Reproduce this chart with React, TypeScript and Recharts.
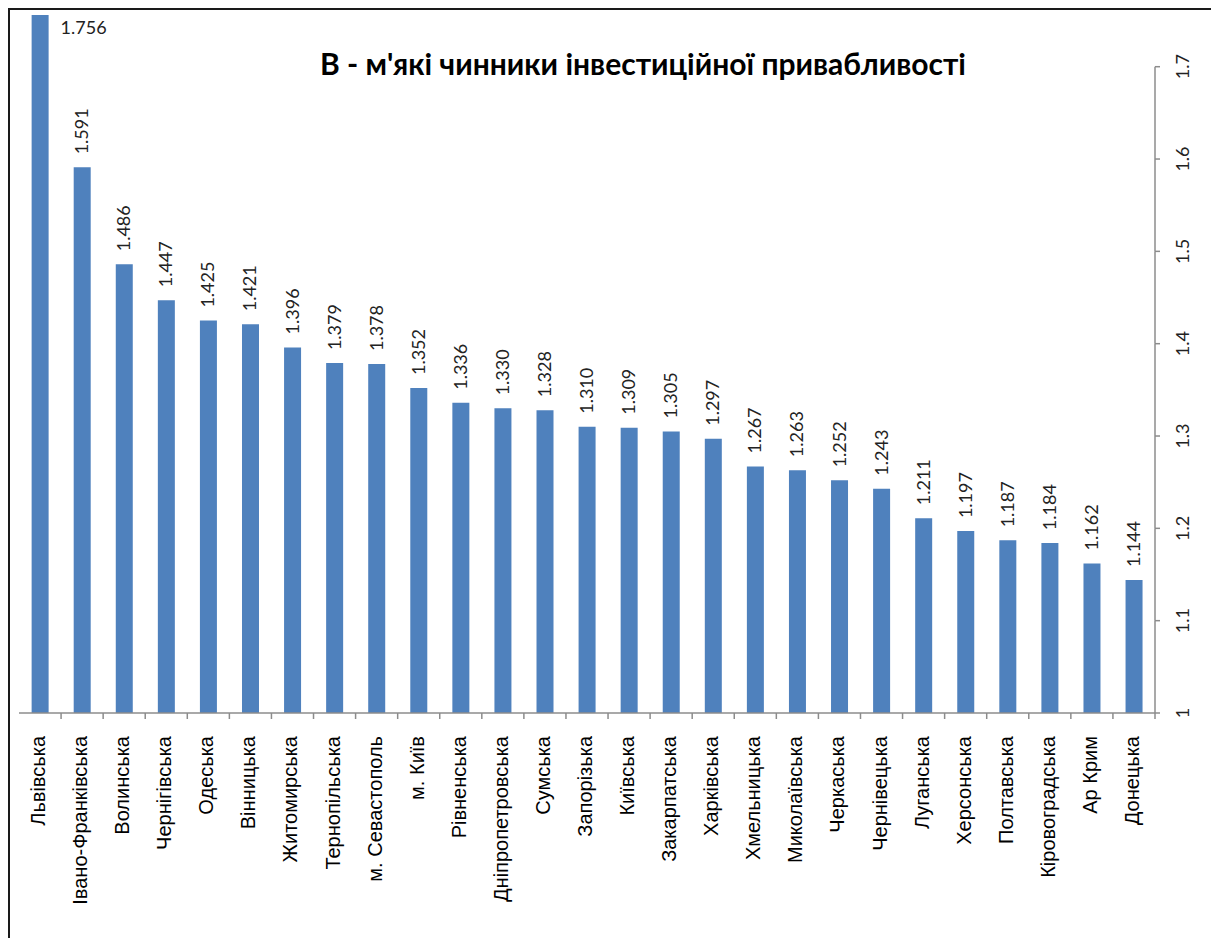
import React from 'react';
import { BarChart, Bar, XAxis, YAxis, LabelList } from 'recharts';

// Регіони та значення м'яких чинників
const regions = [
  'Львівська', 'Івано-Франківська', 'Волинська', 'Чернігівська', 'Одеська',
  'Вінницька', 'Житомирська', 'Тернопільська', 'м. Севастополь', 'м. Київ',
  'Рівненська', 'Дніпропетровська', 'Сумська', 'Запорізька', 'Київська',
  'Закарпатська', 'Харківська', 'Хмельницька', 'Миколаївська', 'Черкаська',
  'Чернівецька', 'Луганська', 'Херсонська', 'Полтавська', 'Кіровоградська',
  'Ар Крим', 'Донецька',
];
const softFactors = [
  1.756, 1.591, 1.486, 1.447, 1.425, 1.421, 1.396, 1.379, 1.378, 1.352,
  1.336, 1.330, 1.328, 1.310, 1.309, 1.305, 1.297, 1.267, 1.263, 1.252,
  1.243, 1.211, 1.197, 1.187, 1.184, 1.162, 1.144,
];
const yTicks = [1, 1.1, 1.2, 1.3, 1.4, 1.5, 1.6, 1.7];
const Y_MIN = 1;
const Y_MAX = 1.756;

const data = regions.map((name, i) => ({ name, value: softFactors[i] }));

const CHART_W = 1204;
const CHART_H = 928;
const X_AXIS_H = 225;
const MARGIN = { top: 5, right: 9, left: 9, bottom: 0 };
const Y_AXIS_W = 50;
const PLOT_W = CHART_W - MARGIN.left - MARGIN.right - Y_AXIS_W;
const PLOT_H = CHART_H - MARGIN.top - MARGIN.bottom - X_AXIS_H;
const BAND = PLOT_W / regions.length;
const TICK_STEP = (PLOT_H / (Y_MAX - Y_MIN)) * 0.1;

const AXIS_COLOR = '#8c8c8c';
const BAR_COLOR = '#4f81bd';

// підпис категорії + риска між категоріями
const CategoryTick = (props: any) => {
  const { x, y, payload } = props;
  const tx = x + 5;
  const ty = y + 23;
  return (
    <g>
      <line x1={x + BAND / 2} x2={x + BAND / 2} y1={y} y2={y + 6} stroke={AXIS_COLOR} strokeWidth={1.5} />
      <text
        x={tx}
        y={ty}
        transform={`rotate(-90, ${tx}, ${ty})`}
        textAnchor="end"
        fontFamily="'Liberation Sans', Arial, sans-serif"
        fontSize={20}
        fill="#000"
      >
        {payload.value}
      </text>
    </g>
  );
};

// підпис значення осі Y + відрізок осі до наступної поділки (вісь починається з 1.7)
const ValueTick = (props: any) => {
  const { x, y, payload, index } = props;
  const tx = x + 8;
  const axisX = x - 19;
  return (
    <g>
      {payload.value > Y_MIN && (
        <line x1={axisX} x2={axisX} y1={y} y2={y + TICK_STEP} stroke={AXIS_COLOR} strokeWidth={1.5} />
      )}
      <line x1={axisX} x2={axisX + 5} y1={y} y2={y} stroke={AXIS_COLOR} strokeWidth={1.5} />
      <text
        key={index}
        x={tx}
        y={y}
        transform={`rotate(-90, ${tx}, ${y})`}
        textAnchor="middle"
        dominantBaseline="central"
        fontFamily="Lato, 'Liberation Sans', sans-serif"
        fontSize={18}
        fill="#222"
      >
        {payload.value}
      </text>
    </g>
  );
};

const ValueLabel = (props: any) => {
  const { x, y, width, value, index } = props;
  const text = Number(value).toFixed(3);
  if (index === 0) {
    // найвищий стовпчик: підпис праворуч, горизонтально
    return (
      <text x={x + width + 12} y={y + 19} fontFamily="Lato, 'Liberation Sans', sans-serif" fontSize={18} fill="#222">
        {text}
      </text>
    );
  }
  const cx = x + width / 2 - 1;
  const cy = y - 13;
  return (
    <text
      x={cx}
      y={cy}
      transform={`rotate(-90, ${cx}, ${cy})`}
      dominantBaseline="central"
      fontFamily="Lato, 'Liberation Sans', sans-serif"
      fontSize={18}
      fill="#222"
    >
      {text}
    </text>
  );
};

export default function App() {
  return (
    <div
      style={{
        position: 'relative',
        width: CHART_W,
        height: 940,
        border: '2px solid #1a1a1a',
        background: '#fff',
      }}
    >
      <div
        style={{
          position: 'absolute',
          left: 0,
          top: 38,
          width: 1266,
          textAlign: 'center',
          fontFamily: "Lato, 'Liberation Sans', sans-serif",
          fontWeight: 'bold',
          fontSize: 30,
          lineHeight: '30px',
          color: '#000',
        }}
      >
        В - м'які чинники інвестиційної привабливості
      </div>
      <BarChart width={CHART_W} height={CHART_H} data={data} margin={MARGIN} barCategoryGap="30%">
        <XAxis
          dataKey="name"
          interval={0}
          height={X_AXIS_H}
          tickSize={0}
          tickMargin={0}
          tickLine={false}
          axisLine={{ stroke: AXIS_COLOR, strokeWidth: 1.5 }}
          tick={<CategoryTick />}
        />
        <YAxis
          orientation="right"
          width={Y_AXIS_W}
          domain={[Y_MIN, Y_MAX]}
          ticks={yTicks}
          tickSize={5}
          tickMargin={14}
          axisLine={false}
          tickLine={false}
          tick={<ValueTick />}
        />
        <Bar dataKey="value" fill={BAR_COLOR} isAnimationActive={false}>
          <LabelList dataKey="value" content={<ValueLabel />} />
        </Bar>
      </BarChart>
    </div>
  );
}
